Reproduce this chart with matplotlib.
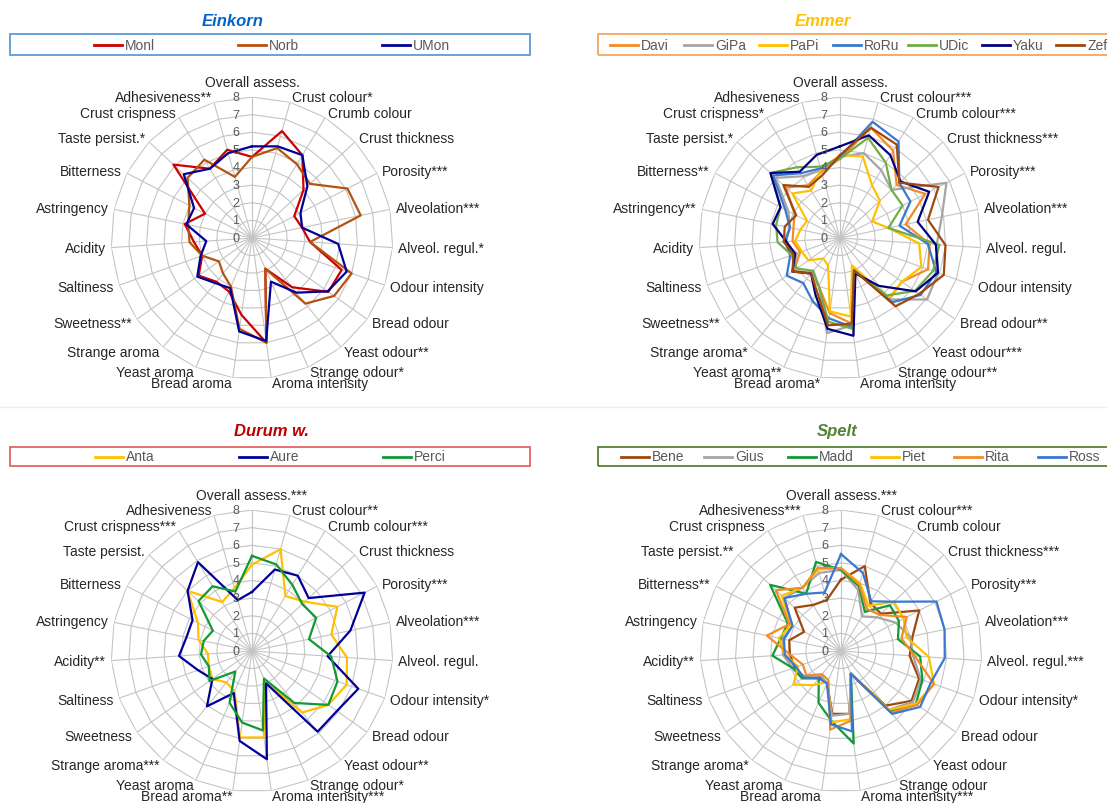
import matplotlib.pyplot as plt
import numpy as np
from matplotlib.lines import Line2D
from matplotlib.patches import Rectangle

plt.rcParams['font.family'] = ['Liberation Sans', 'DejaVu Sans']

W, H = 1107, 804

# sensory attributes (clockwise from the top), with significance stars per species
lab_einkorn = ["Overall assess.", "Crust colour*", "Crumb colour", "Crust thickness", "Porosity***",
               "Alveolation***", "Alveol. regul.*", "Odour intensity", "Bread odour", "Yeast odour**",
               "Strange odour*", "Aroma intensity", "Bread aroma", "Yeast aroma", "Strange aroma",
               "Sweetness**", "Saltiness", "Acidity", "Astringency", "Bitterness", "Taste persist.*",
               "Crust crispness", "Adhesiveness**"]
lab_emmer = ["Overall assess.", "Crust colour***", "Crumb colour***", "Crust thickness***", "Porosity***",
             "Alveolation***", "Alveol. regul.", "Odour intensity", "Bread odour**", "Yeast odour***",
             "Strange odour**", "Aroma intensity", "Bread aroma*", "Yeast aroma**", "Strange aroma*",
             "Sweetness**", "Saltiness", "Acidity", "Astringency**", "Bitterness**", "Taste persist.*",
             "Crust crispness*", "Adhesiveness"]
lab_durum = ["Overall assess.***", "Crust colour**", "Crumb colour***", "Crust thickness", "Porosity***",
             "Alveolation***", "Alveol. regul.", "Odour intensity*", "Bread odour", "Yeast odour**",
             "Strange odour*", "Aroma intensity***", "Bread aroma**", "Yeast aroma", "Strange aroma***",
             "Sweetness", "Saltiness", "Acidity**", "Astringency", "Bitterness", "Taste persist.",
             "Crust crispness***", "Adhesiveness"]
lab_spelt = ["Overall assess.***", "Crust colour***", "Crumb colour", "Crust thickness***", "Porosity***",
             "Alveolation***", "Alveol. regul.***", "Odour intensity*", "Bread odour", "Yeast odour",
             "Strange odour", "Aroma intensity***", "Bread aroma", "Yeast aroma", "Strange aroma*",
             "Sweetness", "Saltiness", "Acidity**", "Astringency", "Bitterness**", "Taste persist.**",
             "Crust crispness", "Adhesiveness***"]

# Einkorn
monl = [4.6, 6.3, 5.5, 4.0, 2.7, 2.9, 3.3, 5.4, 5.3, 3.6, 1.9, 6.0, 4.4, 3.3, 3.2, 3.7, 3.0, 3.3, 3.9, 3.0, 6.1, 4.6, 5.2]
norb = [4.6, 5.3, 4.9, 4.5, 6.1, 6.3, 3.3, 6.0, 5.7, 4.8, 1.9, 6.0, 5.2, 3.0, 2.6, 2.3, 3.0, 3.55, 3.7, 4.0, 5.0, 5.2, 3.6]
umon = [5.2, 5.4, 5.5, 4.3, 3.1, 2.9, 4.9, 5.7, 5.25, 4.0, 2.7, 5.9, 5.35, 3.1, 3.3, 3.8, 3.1, 2.6, 3.8, 3.7, 5.3, 4.6, 5.0]

# Emmer
davi = [4.5, 6.5, 5.8, 4.4, 5.45, 3.8, 5.1, 5.3, 4.3, 4.45, 2.0, 4.9, 4.3, 3.0, 2.6, 3.2, 2.4, 2.7, 2.7, 2.9, 4.2, 3.5, 3.9]
gipa = [4.6, 5.0, 4.5, 4.0, 6.8, 5.9, 5.5, 5.9, 6.05, 4.5, 2.0, 5.0, 5.45, 3.0, 2.5, 3.3, 2.6, 3.2, 2.9, 3.3, 5.0, 4.1, 4.0]
papi = [4.7, 4.8, 3.5, 3.1, 2.05, 2.8, 4.5, 4.9, 4.3, 4.4, 1.7, 4.5, 4.2, 1.7, 1.5, 2.2, 2.3, 2.55, 2.3, 2.1, 3.7, 3.15, 4.05]
roru = [4.6, 6.85, 6.4, 4.6, 4.5, 3.45, 5.0, 5.8, 5.6, 4.7, 2.0, 5.1, 4.6, 3.9, 3.3, 3.7, 3.0, 3.1, 2.9, 3.5, 5.2, 4.3, 4.1]
udic = [4.5, 5.9, 5.0, 4.0, 4.0, 2.8, 5.65, 5.6, 5.2, 4.2, 2.0, 5.2, 4.8, 3.0, 2.4, 3.0, 2.9, 3.55, 3.7, 3.8, 5.4, 4.7, 4.2]
yaku = [5.2, 6.05, 5.5, 4.7, 5.7, 4.5, 5.45, 5.9, 5.25, 3.5, 2.2, 5.6, 5.2, 3.5, 2.6, 3.3, 2.7, 3.05, 3.9, 3.8, 5.4, 4.4, 4.9]
zef = [4.7, 6.5, 6.2, 4.6, 6.3, 5.1, 6.0, 6.25, 5.5, 5.0, 2.0, 4.9, 5.0, 3.3, 2.6, 3.3, 2.8, 3.2, 3.2, 2.8, 4.4, 3.4, 3.7]

# Durum wheat
anta = [4.9, 6.0, 3.65, 4.1, 5.45, 4.6, 5.4, 5.7, 5.3, 4.5, 1.9, 4.95, 4.95, 2.5, 2.3, 2.75, 2.6, 2.5, 3.1, 3.45, 5.0, 3.25, 3.7]
aure = [3.35, 4.8, 5.0, 4.4, 7.2, 5.7, 4.3, 6.4, 5.9, 5.9, 2.0, 6.2, 5.15, 2.6, 4.05, 2.75, 3.25, 4.15, 3.8, 3.8, 5.0, 5.9, 3.0]
perci = [5.4, 5.1, 4.4, 3.9, 4.1, 3.3, 4.5, 5.15, 5.3, 3.8, 1.7, 4.55, 4.1, 3.2, 1.5, 2.95, 2.6, 2.9, 2.8, 2.5, 4.15, 4.3, 3.5]

# Spelt
bene = [4.05, 5.0, 3.2, 3.1, 5.0, 4.15, 3.9, 4.7, 4.9, 4.0, 1.4, 3.6, 3.6, 2.0, 1.9, 2.6, 2.8, 2.9, 3.0, 2.36, 3.6, 3.06, 3.0]
gius = [4.6, 3.6, 2.3, 2.8, 3.5, 4.0, 4.1, 4.8, 5.0, 4.3, 1.4, 3.6, 3.7, 2.0, 1.8, 2.5, 2.9, 3.3, 3.4, 3.1, 4.4, 4.2, 4.6]
madd = [4.6, 3.8, 2.6, 3.8, 3.7, 3.3, 4.5, 4.9, 5.2, 4.4, 1.4, 5.3, 4.0, 3.2, 2.0, 2.7, 2.9, 3.9, 3.5, 3.4, 5.5, 3.8, 5.25]
piet = [4.7, 4.0, 3.0, 4.1, 4.0, 3.8, 5.0, 5.6, 5.2, 4.3, 1.4, 3.9, 4.1, 1.9, 2.5, 3.3, 2.6, 3.2, 3.6, 3.2, 4.6, 4.2, 4.8]
rita = [4.7, 3.9, 2.8, 3.0, 4.2, 3.5, 4.2, 5.6, 5.3, 4.5, 1.4, 4.0, 4.5, 1.8, 1.7, 2.4, 2.3, 2.9, 4.3, 3.3, 5.05, 4.2, 4.9]
ross = [5.5, 4.6, 3.3, 4.1, 6.1, 6.0, 5.9, 5.4, 5.5, 4.6, 1.4, 4.6, 4.2, 2.0, 2.0, 2.6, 2.7, 3.2, 3.3, 3.1, 4.4, 3.8, 3.45]

GRID = '#C4C4C4'
TXT = '#595959'

fig = plt.figure(figsize=(W / 100, H / 100), dpi=100)


def radar(cx, cy, labels, series, colors, R=141):
    ax = fig.add_axes([(cx - R) / W, 1 - (cy + R) / H, 2 * R / W, 2 * R / H], projection='polar')
    ax.set_theta_zero_location('N')
    ax.set_theta_direction(-1)
    ax.set_ylim(0, 8)
    ax.axis('off')
    n = len(labels)
    theta = np.arange(n) * 2 * np.pi / n
    closed = np.append(theta, theta[0])
    # polygon gridlines and spokes
    for k in range(1, 9):
        ax.plot(closed, [k] * (n + 1), color=GRID, lw=0.8, zorder=1)
    for t in theta:
        ax.plot([t, t], [0, 8], color=GRID, lw=0.8, zorder=1)
    for vals, c in zip(series, colors):
        ax.plot(closed, vals + vals[:1], color=c, lw=1.6, zorder=3)
    for k in range(9):
        ax.annotate(str(k), xy=(0, k), xytext=(-9, 0), textcoords='offset points',
                    ha='right', va='center', fontsize=9, color=TXT, annotation_clip=False)
    for t, lab in zip(theta, labels):
        s, c = np.sin(t), np.cos(t)
        if abs(s) < 0.05:
            ha, va, off = 'center', 'bottom', (0, 6)
        else:
            ha = 'left' if s > 0 else 'right'
            va = 'center'
            off = (4 * s, 4 * c)
        ax.annotate(lab, xy=(t, 8), xytext=off, textcoords='offset points',
                    ha=ha, va=va, fontsize=10, color='#262626', annotation_clip=False)


def header(title, tcolor, tx, ty, box, edge, names, colors, first, step):
    fig.text(tx / W, 1 - ty / H, title, ha='center', va='center', fontsize=12,
             fontweight='bold', style='italic', color=tcolor)
    x0, x1, y0, y1 = box
    fig.add_artist(Rectangle((x0 / W, 1 - y1 / H), (x1 - x0) / W, (y1 - y0) / H, fill=False,
                             edgecolor=edge, lw=1.3, transform=fig.transFigure))
    ym = 1 - (y0 + y1) / 2 / H
    for i, (nm, c) in enumerate(zip(names, colors)):
        xs = first + i * step
        fig.add_artist(Line2D([xs / W, (xs + 28) / W], [ym, ym], color=c, lw=2,
                              transform=fig.transFigure))
        fig.text((xs + 31) / W, ym, nm, ha='left', va='center', fontsize=10, color=TXT)


# Einkorn
header("Einkorn", '#0066CC', 233, 21, (10, 530, 35, 56), '#5B9BD5',
       ["Monl", "Norb", "UMon"], ['#CC0000', '#B5520F', '#000099'], 94, 144)
radar(252, 239, lab_einkorn, [monl, norb, umon], ['#CC0000', '#B5520F', '#000099'])

# Emmer
c_emmer = ['#F28C28', '#A5A5A5', '#FFC000', '#3A78D0', '#70AD47', '#000080', '#9E480E']
header("Emmer", '#FFC000', 823, 21, (598, 1130, 35, 56), '#F4A460',
       ["Davi", "GiPa", "PaPi", "RoRu", "UDic", "Yaku", "Zef"], c_emmer, 610, 74.4)
radar(840, 239, lab_emmer, [davi, gipa, papi, roru, udic, yaku, zef], c_emmer)

# Durum wheat
c_durum = ['#FFC000', '#000099', '#119933']
header("Durum w.", '#C00000', 271, 432, (10, 530, 448, 467), '#E06666',
       ["Anta", "Aure", "Perci"], c_durum, 95, 144)
radar(252, 652, lab_durum, [anta, aure, perci], c_durum)

# Spelt
c_spelt = ['#9E480E', '#A5A5A5', '#119933', '#FFC000', '#F28C28', '#3A78D0']
header("Spelt", '#548235', 837, 432, (598, 1130, 448, 467), '#548235',
       ["Bene", "Gius", "Madd", "Piet", "Rita", "Ross"], c_spelt, 621, 83.3)
radar(841, 652, lab_spelt, [bene, gius, madd, piet, rita, ross], c_spelt)

# faint separator between the two rows
fig.add_artist(Line2D([0, 1], [1 - 408 / H] * 2, color='#EDEDED', lw=1, transform=fig.transFigure))

fig.savefig('out.png', dpi=100)
